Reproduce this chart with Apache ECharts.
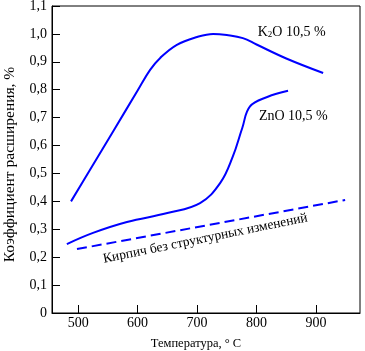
<!DOCTYPE html>
<html><head><meta charset="utf-8">
<script src="https://cdn.jsdelivr.net/npm/echarts@6/dist/echarts.min.js"></script>
<style>html,body{margin:0;padding:0;background:#fff}#c{width:365px;height:351px}</style>
</head><body><div id="c"></div>
<script>
// Data (temperature °C, expansion %)
const k2oX = [488, 520, 560, 600, 621, 638, 666, 700, 727, 750, 777, 800, 850, 912];
const k2oY = [0.40, 0.513, 0.655, 0.797, 0.871, 0.914, 0.961, 0.989, 1.0, 0.996, 0.985, 0.962, 0.912, 0.86];
const znoX = [481, 525, 582, 650, 705, 739, 760, 776, 789, 818, 853];
const znoY = [0.247, 0.287, 0.326, 0.358, 0.394, 0.466, 0.56, 0.663, 0.74, 0.774, 0.796];
const brickX = [498, 949];
const brickY = [0.229, 0.405];
const xTicks = [500, 600, 700, 800, 900];
const yTicks = [0, 0.1, 0.2, 0.3, 0.4, 0.5, 0.6, 0.7, 0.8, 0.9, 1.0, 1.1];
const labelK2O = {x: 802, y: 1.007};
const labelZnO = {x: 804, y: 0.706};
const labelBrick = {x: 714, y: 0.267, text: 'Кирпич без структурных изменений'};

const zip = (xs, ys) => xs.map((x, i) => [x, ys[i]]);
const font = 'Liberation Serif';
const blue = '#0000ff';

const chart = echarts.init(document.getElementById('c'));
chart.setOption({
  animation: false,
  grid: {left: 52, right: 5, top: 6, bottom: 38, outerBoundsMode: 'none', containLabel: false,
    show: true, borderColor: '#000', borderWidth: 1, backgroundColor: 'transparent'},
  xAxis: {
    type: 'value', min: 456, max: 974,
    name: 'Температура, ° С', nameLocation: 'middle', nameGap: 24,
    nameTextStyle: {fontFamily: font, fontSize: 12.5, color: '#000', padding: [0, 20, 0, 0]},
    axisLine: {show: true, lineStyle: {color: '#000', width: 1}},
    axisTick: {show: true, inside: true, length: 8, lineStyle: {color: '#000'}, customValues: xTicks},
    axisLabel: {fontFamily: font, fontSize: 14, color: '#000', margin: 3, customValues: xTicks},
    splitLine: {show: false}
  },
  yAxis: {
    type: 'value', min: 0, max: 1.1, interval: 0.1,
    name: 'Коэффициент расширения, %', nameLocation: 'middle', nameGap: 34,
    nameTextStyle: {fontFamily: font, fontSize: 15.5, color: '#000', padding: [0, 10, 0, 0]},
    axisLine: {show: true, lineStyle: {color: '#000', width: 1}},
    axisTick: {show: true, inside: true, length: 8, lineStyle: {color: '#000'}},
    axisLabel: {fontFamily: font, fontSize: 14, color: '#000', margin: 5,
      formatter: v => (Math.round(v * 10) === 0 ? '0' : (Math.round(v * 10) / 10).toFixed(1).replace('.', ','))},
    splitLine: {show: false}
  },
  series: [
    {
      type: 'line', data: zip(k2oX, k2oY), smooth: 0.4, symbol: 'none',
      lineStyle: {color: blue, width: 2},
      markPoint: {symbol: 'circle', symbolSize: 0, data: [{coord: [labelK2O.x, labelK2O.y]}],
        label: {show: true, position: 'right', distance: 0, formatter: 'K{s|2}O 10,5 %',
          fontFamily: font, fontSize: 14, color: '#000',
          rich: {s: {fontFamily: font, fontSize: 9, color: '#000', verticalAlign: 'bottom', padding: [6, 0, 0, 0]}}}}
    },
    {
      type: 'line', data: zip(znoX, znoY), smooth: 0.4, symbol: 'none',
      lineStyle: {color: blue, width: 2},
      markPoint: {symbol: 'circle', symbolSize: 0, data: [{coord: [labelZnO.x, labelZnO.y]}],
        label: {show: true, position: 'right', distance: 0, formatter: 'ZnO 10,5 %',
          fontFamily: font, fontSize: 14, color: '#000'}}
    },
    {
      type: 'line', data: zip(brickX, brickY), symbol: 'none',
      lineStyle: {color: blue, width: 2, type: [10, 5]},
      markPoint: {symbol: 'circle', symbolSize: 0, data: [{coord: [labelBrick.x, labelBrick.y]}],
        label: {show: true, position: 'inside', formatter: labelBrick.text, rotate: 11.5,
          fontFamily: font, fontSize: 13.5, color: '#000'}}
    }
  ]
});
</script></body></html>
